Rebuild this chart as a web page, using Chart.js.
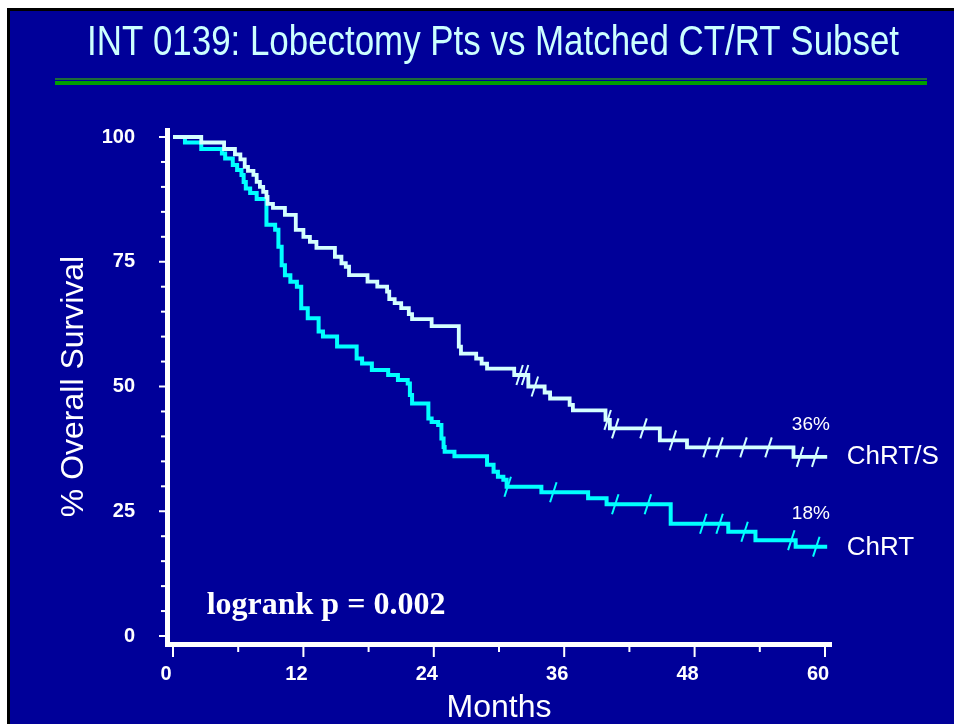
<!DOCTYPE html>
<html>
<head>
  <meta charset="utf-8">
  <title>INT 0139: Lobectomy Pts vs Matched CT/RT Subset</title>
  <script src="https://cdn.jsdelivr.net/npm/chart.js@4.4.1/dist/chart.umd.min.js"></script>
  <style>
    html, body { margin: 0; padding: 0; background: #fff; }
    canvas { position: absolute; left: 0; top: 0; }
  </style>
</head>
<body>
  <canvas id="kmChart" width="954" height="724"></canvas>
  <script>
    // Kaplan-Meier steps: month of each drop and % alive after it
    var monthsS = [0, 2.6, 4.7, 5.7, 6.2, 6.6, 6.9, 7.4, 7.7, 8.0, 8.3, 8.6, 8.7, 9.2, 10.3, 11.3, 12.0, 12.6, 13.2, 14.9,
      15.5, 15.9, 16.2, 17.9, 18.8, 19.7, 19.9, 20.4, 21.0, 21.7, 22.0, 23.8, 26.3, 26.5, 27.9, 28.4, 28.9, 31.4, 32.7, 34.2,
      34.7, 36.5, 36.8, 39.8, 40.2, 44.8, 47.3, 57.1, 60.2];
    var survS = [100, 98.9, 97.6, 96.5, 95.5, 94.0, 93.2, 92.4, 91.0, 90.0, 89.0, 88.0, 86.6, 85.8, 84.4, 81.4, 80.0, 79.0, 77.8, 76.0,
      74.7, 74.0, 72.3, 71.0, 70.0, 69.0, 67.5, 66.7, 65.7, 64.5, 63.5, 62.1, 58.0, 56.6, 55.6, 54.6, 53.6, 52.3, 50.0, 48.8,
      47.6, 46.3, 45.2, 43.3, 41.6, 39.2, 37.8, 35.9, 35.9];

    var monthsC = [0, 1.1, 2.6, 4.5, 4.8, 5.5, 5.9, 6.3, 6.5, 6.7, 7.1, 7.7, 8.6, 9.4, 9.7, 10.0, 10.3, 10.8, 11.4, 11.8,
      12.4, 13.4, 13.8, 15.1, 16.9, 17.4, 18.3, 19.8, 20.7, 21.6, 21.8, 22.0, 23.5, 23.8, 24.4, 24.7, 24.9, 25.0, 25.9, 28.9,
      29.5, 29.9, 30.4, 30.7, 33.9, 38.2, 39.9, 45.8, 51.1, 53.6, 57.3, 60.2];
    var survC = [100, 98.9, 97.6, 96.7, 95.7, 94.4, 93.4, 92.4, 91.0, 89.7, 88.8, 87.6, 82.4, 81.4, 78.0, 74.3, 72.3, 71.0, 70.0, 65.7,
      63.7, 61.0, 60.0, 58.0, 55.6, 54.6, 53.3, 52.3, 51.3, 50.6, 48.3, 46.6, 43.6, 42.9, 42.3, 39.6, 37.9, 36.9, 36.0, 34.3,
      32.9, 31.9, 31.3, 29.9, 28.8, 27.6, 26.4, 22.5, 20.9, 19.2, 17.9, 17.9];

    // censored patients (tick marks)
    var censorMonthsS = [31.9, 32.4, 33.3, 40.0, 40.7, 43.3, 46.0, 49.1, 50.3, 52.5, 54.8, 57.7, 59.1];
    var censorSurvS = [52.3, 52.3, 50.0, 43.3, 41.6, 41.6, 39.2, 37.8, 37.8, 37.8, 37.8, 35.9, 35.9];
    var censorMonthsC = [30.8, 35.0, 40.7, 43.7, 48.8, 50.3, 52.6, 56.9, 59.2];
    var censorSurvC = [29.9, 28.8, 26.4, 26.4, 22.5, 22.5, 20.9, 19.2, 17.9];

    var xTickLabels = [0, 12, 24, 36, 48, 60];
    var yTickLabels = [0, 25, 50, 75, 100];

    var title = 'INT 0139: Lobectomy Pts vs Matched CT/RT Subset';

    function toPoints(xs, ys) {
      return xs.map(function (x, i) { return { x: x, y: ys[i] }; });
    }

    // slide background, green rule and heading
    var slide = {
      id: 'slide',
      beforeDraw: function (chart) {
        var ctx = chart.ctx, w = chart.width, h = chart.height;
        ctx.save();
        ctx.fillStyle = '#fff';
        ctx.fillRect(0, 0, w, h);
        ctx.fillStyle = '#000';
        ctx.fillRect(7, 8, w - 7, h - 8);
        ctx.fillStyle = '#000099';
        ctx.fillRect(10, 11, w - 10, h - 11);
        ctx.fillStyle = '#1b6b3a';
        ctx.fillRect(55, 78, 872, 2);
        ctx.fillStyle = '#009f00';
        ctx.fillRect(55, 81, 872, 4);
        ctx.fillStyle = '#ccffff';
        ctx.font = '43px "Liberation Sans Narrow", "Liberation Sans", sans-serif';
        ctx.textAlign = 'center';
        ctx.textBaseline = 'middle';
        ctx.fillText(title, 493, 43, 812);
        ctx.restore();
      }
    };

    // offset axis lines with long/short ticks
    var axes = {
      id: 'axes',
      afterDatasetsDraw: function (chart) {
        var ctx = chart.ctx, a = chart.chartArea;
        var xs = chart.scales.x, ys = chart.scales.y;
        ctx.save();
        ctx.fillStyle = '#fff';
        ctx.fillRect(a.left - 8, a.top - 9, 5, a.bottom - a.top + 20);
        ctx.fillRect(a.left - 8, a.bottom + 6, a.right - a.left + 15, 5);
        ys.ticks.forEach(function (t) {
          var py = ys.getPixelForValue(t.value);
          var len = yTickLabels.indexOf(t.value) >= 0 ? 6 : 4;
          ctx.fillRect(a.left - 8 - len, py - 1, len, 2);
        });
        xs.ticks.forEach(function (t) {
          var px = xs.getPixelForValue(t.value);
          var len = xTickLabels.indexOf(t.value) >= 0 ? 10 : 5;
          ctx.fillRect(px - 1, a.bottom + 11, 2, len);
        });
        ctx.restore();
      }
    };

    // end-of-curve labels and p value
    var notes = {
      id: 'notes',
      afterDraw: function (chart) {
        var ctx = chart.ctx, xs = chart.scales.x, ys = chart.scales.y;
        function at(m, p) { return [xs.getPixelForValue(m), ys.getPixelForValue(p)]; }
        ctx.save();
        ctx.fillStyle = '#fff';
        ctx.textBaseline = 'middle';
        ctx.textAlign = 'center';
        ctx.font = '19px "Liberation Sans", Arial, sans-serif';
        var p = at(58.7, 42.3);
        ctx.fillText('36%', p[0], p[1]);
        p = at(58.7, 24.4);
        ctx.fillText('18%', p[0], p[1]);
        ctx.textAlign = 'left';
        ctx.font = '26px "Liberation Sans", Arial, sans-serif';
        p = at(62.0, 35.9);
        ctx.fillText('ChRT/S', p[0], p[1]);
        p = at(62.0, 17.6);
        ctx.fillText('ChRT', p[0], p[1]);
        ctx.font = 'bold 32px "Liberation Serif", "Times New Roman", serif';
        p = at(3.1, 6.0);
        ctx.fillText('logrank p = 0.002', p[0], p[1]);
        ctx.restore();
      }
    };

    var tickFont = { family: '"Liberation Sans", Arial, sans-serif', size: 20, weight: 'bold' };
    var titleFont = { family: '"Liberation Sans", Arial, sans-serif', size: 32, lineHeight: 1 };

    var options = {
      type: 'line',
      data: {
        datasets: [{
          label: 'ChRT/S',
          data: toPoints(monthsS, survS),
          borderColor: '#d4ffff',
          borderWidth: 3.8,
          stepped: 'before',
          pointRadius: 0,
          fill: false,
          clip: false
        }, {
          label: 'ChRT',
          data: toPoints(monthsC, survC),
          borderColor: '#00ffff',
          borderWidth: 4,
          stepped: 'before',
          pointRadius: 0,
          fill: false,
          clip: false
        }, {
          label: 'ChRT/S censored',
          data: toPoints(censorMonthsS, censorSurvS),
          showLine: false,
          pointStyle: 'line',
          pointRadius: 10.5,
          pointRotation: -72,
          pointBorderWidth: 2,
          pointBorderColor: '#d4ffff',
          borderColor: '#d4ffff',
          clip: false
        }, {
          label: 'ChRT censored',
          data: toPoints(censorMonthsC, censorSurvC),
          showLine: false,
          pointStyle: 'line',
          pointRadius: 10.5,
          pointRotation: -72,
          pointBorderWidth: 2,
          pointBorderColor: '#00ffff',
          borderColor: '#00ffff',
          clip: false
        }]
      },
      options: {
        responsive: false,
        animation: false,
        layout: { padding: { top: 137, right: 129, bottom: 0, left: 0 } },
        plugins: {
          legend: { display: false },
          tooltip: { enabled: false }
        },
        scales: {
          x: {
            type: 'linear',
            min: 0,
            max: 60,
            grid: { display: false, drawTicks: false },
            border: { display: false },
            ticks: {
              stepSize: 6,
              autoSkip: false,
              maxRotation: 0,
              padding: 26,
              labelOffset: -7,
              color: '#fff',
              font: tickFont,
              callback: function (v) { return xTickLabels.indexOf(v) >= 0 ? v : ''; }
            },
            title: { display: true, text: 'Months', color: '#fff', font: titleFont, padding: { top: 0, bottom: 0 } },
            afterFit: function (s) { s.height = 88; }
          },
          y: {
            min: 0,
            max: 100,
            grid: { display: false, drawTicks: false },
            border: { display: false },
            ticks: {
              stepSize: 5,
              autoSkip: false,
              padding: 38,
              color: '#fff',
              font: tickFont,
              callback: function (v) { return yTickLabels.indexOf(v) >= 0 ? v : ''; }
            },
            title: { display: true, text: '% Overall Survival', color: '#fff', font: titleFont, padding: { top: 58, bottom: 0 } },
            afterFit: function (s) { s.width = 173; }
          }
        }
      },
      plugins: [slide, axes, notes]
    };

    var ctx = document.getElementById('kmChart').getContext('2d');
    window.km = new Chart(ctx, options);
  </script>
</body>
</html>
